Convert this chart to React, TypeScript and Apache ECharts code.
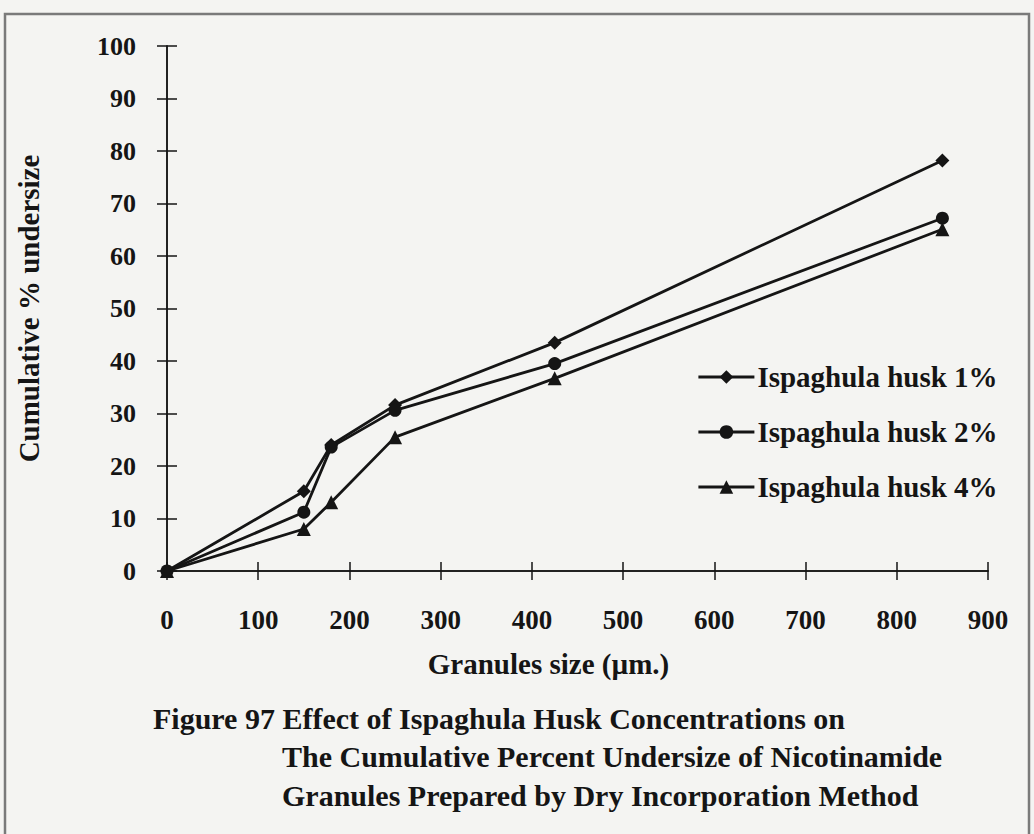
import React, { useEffect, useRef } from "react";
import * as echarts from "echarts";

const sizes = [0, 150, 180, 250, 425, 850];
const husk1 = [0, 15.2, 24.0, 31.6, 43.5, 78.2];
const husk2 = [0, 11.2, 23.6, 30.6, 39.5, 67.2];
const husk4 = [0, 8.0, 13.1, 25.5, 36.7, 65.1];
const seriesNames = ["Ispaghula husk 1%", "Ispaghula husk 2%", "Ispaghula husk 4%"];
const xName = "Granules size (\u00b5m.)";
const yName = "Cumulative % undersize";
const captionLines = [
  "Figure 97 Effect of Ispaghula Husk Concentrations on",
  "The Cumulative Percent Undersize of Nicotinamide",
  "Granules Prepared by Dry Incorporation Method",
];

const FONT = "'Liberation Serif', 'Times New Roman', serif";
const INK = "#151515";

export default function App() {
  const ref = useRef<HTMLDivElement>(null);
  useEffect(() => {
    if (!ref.current) return;
    const chart = echarts.init(ref.current, undefined, { renderer: "svg" });
    const pair = (ys: number[]) => sizes.map((x, i) => [x, ys[i]]);
    const gridPos = { left: 167, right: 46, top: 46, bottom: 263 };
    const axisLine = { show: true, lineStyle: { color: INK, width: 1.5 } };
    const labelStyle = { color: INK, fontFamily: FONT, fontSize: 26, fontWeight: "bold" as const };
    const mk = (name: string, data: number[], symbol: string, size: number) => ({
      type: "line",
      name,
      data: pair(data),
      xAxisIndex: 0,
      yAxisIndex: 0,
      symbol,
      symbolSize: size,
      lineStyle: { color: INK, width: 2.8 },
      itemStyle: { color: INK },
    });
    chart.setOption({
      animation: false,
      backgroundColor: "#f4f4f2",
      grid: [
        { ...gridPos },
        { ...gridPos },
      ],
      xAxis: [
        {
          type: "value",
          gridIndex: 0,
          min: 0,
          max: 900,
          interval: 100,
          axisLine,
          axisTick: { show: true, inside: false, length: 9, lineStyle: { color: INK, width: 1.5 } },
          axisLabel: { ...labelStyle, fontSize: 27, margin: 35 },
          splitLine: { show: false },
          name: xName,
          nameLocation: "middle",
          nameGap: 78,
          nameTextStyle: { color: INK, fontFamily: FONT, fontSize: 29, fontWeight: "bold", padding: [0, 58, 0, 0] },
        },
        {
          type: "value",
          gridIndex: 1,
          min: 0,
          max: 900,
          interval: 100,
          axisLine,
          axisTick: { show: true, inside: true, length: 9, lineStyle: { color: INK, width: 1.5 } },
          axisLabel: { show: false },
          splitLine: { show: false },
        },
      ],
      yAxis: [
        {
          type: "value",
          gridIndex: 0,
          min: 0,
          max: 100,
          interval: 10,
          axisLine,
          axisTick: { show: true, inside: false, length: 10, lineStyle: { color: INK, width: 1.5 } },
          axisLabel: { ...labelStyle, margin: 31 },
          splitLine: { show: false },
          name: yName,
          nameLocation: "middle",
          nameGap: 124,
          nameRotate: 90,
          nameTextStyle: { color: INK, fontFamily: FONT, fontSize: 29, fontWeight: "bold" },
        },
        {
          type: "value",
          gridIndex: 1,
          min: 0,
          max: 100,
          interval: 10,
          axisLine,
          axisTick: { show: true, inside: true, length: 10, lineStyle: { color: INK, width: 1.5 } },
          axisLabel: { show: false },
          splitLine: { show: false },
        },
      ],
      legend: {
        data: seriesNames,
        orient: "vertical",
        left: 692,
        top: 357,
        itemWidth: 56,
        itemHeight: 17,
        itemGap: 25,
        lineStyle: { width: 2.8, color: INK },
        textStyle: { color: INK, fontFamily: FONT, fontSize: 29, fontWeight: "bold", lineHeight: 30, padding: [0, 0, 0, -2] },
      },
      series: [
        mk(seriesNames[0], husk1, "diamond", 14),
        mk(seriesNames[1], husk2, "circle", 13),
        mk(seriesNames[2], husk4, "triangle", 14),
      ],
      graphic: [
        {
          type: "rect",
          shape: { x: 5, y: 14, width: 1024, height: 840 },
          style: { fill: "none", stroke: "#7a7a7a", lineWidth: 2.5 },
          silent: true,
        },
        {
          type: "text",
          x: 153,
          y: 718,
          style: { text: captionLines[0], fill: INK, font: `bold 30px ${FONT}`, verticalAlign: "middle" },
        },
        {
          type: "text",
          x: 282,
          y: 756,
          style: { text: captionLines[1], fill: INK, font: `bold 30px ${FONT}`, verticalAlign: "middle" },
        },
        {
          type: "text",
          x: 282,
          y: 795,
          style: { text: captionLines[2], fill: INK, font: `bold 30px ${FONT}`, verticalAlign: "middle" },
        },
      ],
    });
    return () => chart.dispose();
  }, []);
  return (
    <div
      ref={ref}
      style={{ position: "fixed", left: 0, top: 0, width: 1034, height: 834, background: "#f4f4f2" }}
    />
  );
}
